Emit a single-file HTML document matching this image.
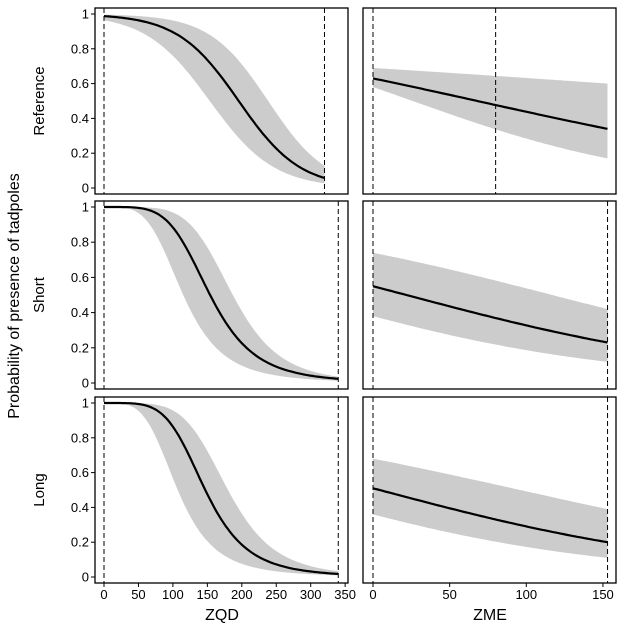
<!DOCTYPE html><html><head><style>body{margin:0;background:#fff}svg{display:block}text{font-family:"Liberation Sans",sans-serif;fill:#000}</style></head><body>
<svg id="s" width="624" height="624" xmlns="http://www.w3.org/2000/svg"></svg>
<script>
const s=document.getElementById('s');let h='';
const rows=[[8,194],[201,389],[397,583]];
const L=[95,348],R=[363,616];
const lx=u=>104+u*0.689, rx=u=>373+u*1.533;
function yv(r,p){return rows[r][0]+6+(1-p)*(rows[r][1]-rows[r][0]-12);}
const hill=(m,k)=>x=>1/(1+Math.pow(x/m,k));
const lg=p=>Math.log(p/(1-p)),il=z=>1/(1+Math.exp(-z));
const ll=(a,b)=>x=>il(a-b*x);
const lin=(a,b,X)=>x=>il(lg(a)+(lg(b)-lg(a))*x/X);
const left=[[ll(4.4,0.0225),ll(5.6,0.0235),ll(3.3,0.0215),320],[hill(154,4.7),hill(187,5.5),hill(115,4.0),340],[hill(147,4.8),hill(180,5.3),hill(107,4.0),340]];
const right=[[lin(.63,.34,153),lin(.69,.60,153),lin(.58,.17,153),153],[lin(.55,.23,153),lin(.74,.42,153),lin(.38,.12,153),153],[lin(.51,.20,153),lin(.68,.39,153),lin(.36,.11,153),153]];
function panel(r,f,X,xs){let up=[],lo=[],c=[];for(let i=0;i<=100;i++){let x=X*i/100;up.push(xs(x).toFixed(1)+','+yv(r,f[1](x)).toFixed(1));lo.push(xs(x).toFixed(1)+','+yv(r,f[2](x)).toFixed(1));c.push(xs(x).toFixed(1)+','+yv(r,f[0](x)).toFixed(1));}
h+=`<polygon points="${up.join(' ')} ${lo.reverse().join(' ')}" fill="#cccccc"/><polyline points="${c.join(' ')}" fill="none" stroke="#000" stroke-width="2.2"/>`;}
for(let r=0;r<3;r++){
 const [t,b]=rows[r];
 panel(r,left[r],left[r][3],lx);panel(r,right[r],right[r][3],rx);
 h+=`<rect x="${L[0]}" y="${t}" width="${L[1]-L[0]}" height="${b-t}" fill="none" stroke="#000" stroke-width="1.3"/>`;
 h+=`<rect x="${R[0]}" y="${t}" width="${R[1]-R[0]}" height="${b-t}" fill="none" stroke="#000" stroke-width="1.3"/>`;
 const dl=r==0?[0,320]:[0,340],dr=r==0?[0,80]:[0,153];
 dl.forEach(u=>h+=`<line x1="${lx(u)}" x2="${lx(u)}" y1="${t}" y2="${b}" stroke="#000" stroke-dasharray="5,3"/>`);
 dr.forEach(u=>h+=`<line x1="${rx(u)}" x2="${rx(u)}" y1="${t}" y2="${b}" stroke="#000" stroke-dasharray="5,3"/>`);
 ['0','0.2','0.4','0.6','0.8','1'].forEach((l,i)=>{let y=yv(r,i/5);h+=`<line x1="91" x2="95" y1="${y}" y2="${y}" stroke="#000"/><text x="89" y="${y+4.5}" font-size="13" text-anchor="end">${l}</text>`;});
 h+=`<text transform="translate(44,${(t+b)/2}) rotate(-90)" font-size="15" text-anchor="middle">${['Reference','Short','Long'][r]}</text>`;
}
[0,50,100,150,200,250,300,350].forEach(u=>h+=`<line x1="${lx(u)}" x2="${lx(u)}" y1="583" y2="587" stroke="#000"/><text x="${lx(u)}" y="599" font-size="13" text-anchor="middle">${u}</text>`);
[0,50,100,150].forEach(u=>h+=`<line x1="${rx(u)}" x2="${rx(u)}" y1="583" y2="587" stroke="#000"/><text x="${rx(u)}" y="599" font-size="13" text-anchor="middle">${u}</text>`);
h+=`<text x="222" y="620" font-size="16" text-anchor="middle">ZQD</text><text x="490" y="620" font-size="16" text-anchor="middle">ZME</text>`;
h+=`<text transform="translate(19,296) rotate(-90)" font-size="16" text-anchor="middle">Probability of presence of tadpoles</text>`;
s.innerHTML=h;
</script></body></html>
